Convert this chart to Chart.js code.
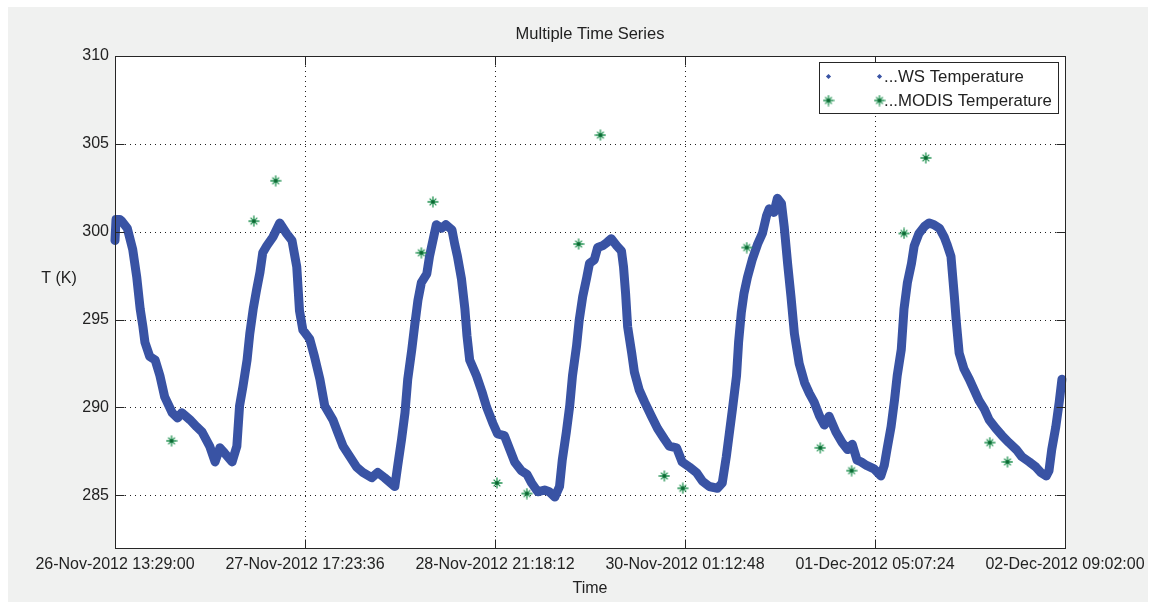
<!DOCTYPE html>
<html>
<head>
<meta charset="utf-8">
<title>Multiple Time Series</title>
<script src="https://cdn.jsdelivr.net/npm/chart.js@4.4.0/dist/chart.umd.min.js"></script>
<style>
  html, body { margin: 0; padding: 0; background: #ffffff; }
  canvas { display: block; }
</style>
</head>
<body>
<canvas id="chart" width="1155" height="602"></canvas>
<script>
// Time axis: hours elapsed since 26-Nov-2012 13:29:00
const xTickLabels = [
  '26-Nov-2012 13:29:00', '27-Nov-2012 17:23:36', '28-Nov-2012 21:18:12',
  '30-Nov-2012 01:12:48', '01-Dec-2012 05:07:24', '02-Dec-2012 09:02:00'
];
const xTickHours = [0, 27.91, 55.82, 83.73, 111.64, 139.55];
const yTicks = [285, 290, 295, 300, 305, 310];

// Weather-station temperature (K)
const wsHours = [
  0, 0.15, 0.7, 1.0, 1.8, 2.6, 3.2, 3.7, 4.1, 4.4,
  5.1, 5.9, 6.6, 7.3, 8.4, 9.2, 9.8, 11.0, 12.0, 12.8,
  13.9, 14.7, 15.4, 16.1, 17.2, 17.9, 18.3, 18.8, 19.4, 19.8,
  20.3, 20.8, 21.3, 21.7, 22.3, 23.2, 24.2, 25.2, 26.0, 26.7,
  27.1, 27.6, 28.6, 29.3, 30.1, 30.8, 32.0, 32.7, 33.5, 34.5,
  35.5, 36.4, 37.7, 38.6, 39.6, 41.1, 41.5, 42.1, 42.6, 43.0,
  43.6, 44.0, 44.5, 45.0, 45.8, 46.2, 46.7, 47.2, 48.0, 48.6,
  49.5, 49.9, 50.3, 50.9, 51.4, 51.7, 52.1, 53.1, 53.9, 54.6,
  55.5, 56.2, 57.2, 58.0, 58.7, 59.7, 60.5, 61.2, 62.1, 63.1,
  63.8, 64.6, 65.3, 65.7, 66.3, 66.8, 67.2, 67.8, 68.2, 68.7,
  69.3, 69.7, 70.4, 70.9, 71.6, 72.3, 72.9, 73.7, 74.4, 74.7,
  75.0, 75.3, 75.9, 76.3, 77.0, 77.8, 78.8, 79.7, 80.7, 81.4,
  82.5, 83.3, 84.4, 85.4, 86.3, 87.3, 88.5, 89.2, 89.8, 90.2,
  90.7, 91.3, 91.6, 92.0, 92.4, 92.9, 93.6, 94.4, 95.1, 95.7,
  96.1, 96.8, 97.3, 97.9, 98.3, 98.8, 99.3, 99.8, 100.5, 101.3,
  102.0, 102.7, 103.5, 104.2, 104.9, 105.9, 106.8, 107.6, 108.3, 109.0,
  109.6, 110.4, 111.5, 112.5, 113.0, 113.4, 114.0, 114.5, 114.9, 115.5,
  115.9, 116.4, 117.0, 117.4, 118.1, 118.9, 119.6, 120.3, 121.1, 121.8,
  122.2, 122.8, 123.3, 123.6, 124.0, 124.7, 125.5, 126.2, 126.9, 127.7,
  128.4, 129.4, 130.3, 131.3, 132.4, 133.2, 134.3, 135.3, 136.0, 136.8,
  137.2, 137.6, 138.2, 138.7, 139.1
];
const wsTemp = [
  299.5, 300.7, 300.7, 300.6, 300.2, 299.0, 297.4, 295.6, 294.6, 293.7,
  292.9, 292.7, 291.8, 290.6, 289.7, 289.4, 289.7, 289.3, 288.9, 288.6,
  287.8, 286.9, 287.7, 287.4, 286.9, 287.8, 290.1, 291.2, 292.7, 294.2,
  295.6, 296.7, 297.7, 298.8, 299.2, 299.7, 300.5, 299.9, 299.5, 298.0,
  295.5, 294.4, 293.9, 292.9, 291.6, 290.1, 289.3, 288.6, 287.8, 287.2,
  286.6, 286.3, 286.0, 286.3, 286.0, 285.5, 286.6, 288.2, 289.7, 291.6,
  293.3, 294.6, 296.1, 297.1, 297.6, 298.6, 299.5, 300.4, 300.2, 300.4,
  300.1, 299.3, 298.6, 297.3, 295.6, 294.1, 292.7, 291.8, 290.9, 290.0,
  289.1, 288.5, 288.4, 287.6, 286.9, 286.4, 286.2, 285.7, 285.2, 285.3,
  285.2, 284.9, 285.5, 287.0, 288.6, 290.1, 291.8, 293.5, 295.0, 296.3,
  297.4, 298.2, 298.4, 299.1, 299.2, 299.4, 299.6, 299.2, 298.9, 298.0,
  296.5, 294.6, 293.1, 292.0, 291.0, 290.3, 289.5, 288.8, 288.2, 287.8,
  287.7, 286.9, 286.6, 286.3, 285.8, 285.5, 285.4, 285.7, 287.2, 288.4,
  289.9, 291.8, 293.7, 295.4, 296.5, 297.4, 298.4, 299.3, 299.9, 300.9,
  301.3, 301.1, 301.9, 301.6, 300.3, 298.2, 296.3, 294.2, 292.5, 291.4,
  290.8, 290.3, 289.5, 289.0, 289.5, 288.6, 288.0, 287.6, 287.9, 287.0,
  286.9, 286.7, 286.5, 286.1, 286.7, 287.6, 288.9, 290.4, 291.8, 293.3,
  295.6, 297.1, 298.2, 299.2, 299.9, 300.3, 300.5, 300.4, 300.2, 299.7,
  299.3, 298.6, 296.3, 294.8, 293.1, 292.2, 291.6, 291.0, 290.4, 289.9,
  289.3, 288.8, 288.4, 288.0, 287.6, 287.2, 286.9, 286.6, 286.3, 286.1,
  286.4, 287.6, 288.9, 290.3, 291.6
];

// MODIS land-surface temperature overpasses (K)
const modisHours = [8.3, 20.4, 23.6, 45.0, 46.7, 56.1, 60.5, 68.1, 71.3, 80.7, 83.4, 92.8, 103.6, 108.2, 115.9, 119.1, 128.5, 131.1];
const modisTemp  = [288.1, 300.6, 302.9, 298.8, 301.7, 285.7, 285.1, 299.3, 305.5, 286.1, 285.4, 299.1, 287.7, 286.4, 299.9, 304.2, 288.0, 286.9];

const seriesNames = ['...WS Temperature', '...MODIS Temperature'];

const BLUE = '#3953a4';
const GREEN = '#1f9150';
const GREEN_DARK = '#0c6531';
const TEXT = '#222222';
const FONT = '"Liberation Sans", Arial, sans-serif';

// asterisk marker used for the MODIS points
function makeStar(size) {
  const c = document.createElement('canvas');
  c.width = c.height = size;
  const g = c.getContext('2d');
  const m = size / 2;
  const d = size * 0.28;
  g.strokeStyle = GREEN;
  g.lineWidth = 1.3;
  g.beginPath();
  g.moveTo(m, 0.5); g.lineTo(m, size - 0.5);
  g.moveTo(0.5, m); g.lineTo(size - 0.5, m);
  g.moveTo(m - d, m - d); g.lineTo(m + d, m + d);
  g.moveTo(m - d, m + d); g.lineTo(m + d, m - d);
  g.stroke();
  g.fillStyle = GREEN_DARK;
  g.beginPath(); g.arc(m, m, 1.8, 0, Math.PI * 2); g.fill();
  return c;
}
const starMarker = makeStar(12);

function drawDiamond(ctx, x, y, r) {
  ctx.beginPath();
  ctx.moveTo(x, y - r); ctx.lineTo(x + r, y); ctx.lineTo(x, y + r); ctx.lineTo(x - r, y);
  ctx.closePath();
  ctx.fill();
}

const figure = {
  id: 'figure',
  beforeDraw(chart) {
    const { ctx, chartArea: a } = chart;
    const xs = chart.scales.x, ys = chart.scales.y;
    ctx.save();
    ctx.fillStyle = '#ffffff';
    ctx.fillRect(0, 0, chart.width, chart.height);
    ctx.fillStyle = '#f0f1f0';
    ctx.fillRect(8, 7, 1140, 595);
    ctx.fillStyle = '#ffffff';
    ctx.fillRect(a.left, a.top, a.right - a.left, a.bottom - a.top);
    // dotted grid
    ctx.strokeStyle = '#202020';
    ctx.lineWidth = 1;
    ctx.setLineDash([1, 4]);
    ctx.beginPath();
    xs.ticks.forEach(t => {
      const px = Math.round(xs.getPixelForValue(t.value)) + 0.5;
      ctx.moveTo(px, a.top); ctx.lineTo(px, a.bottom);
    });
    ys.ticks.forEach(t => {
      const py = Math.round(ys.getPixelForValue(t.value)) + 0.5;
      ctx.moveTo(a.left, py); ctx.lineTo(a.right, py);
    });
    ctx.stroke();
    ctx.restore();
  },
  afterDatasetsDraw(chart) {
    const { ctx, chartArea: a } = chart;
    const xs = chart.scales.x, ys = chart.scales.y;
    const L = Math.round(a.left) + 0.5, R = Math.round(a.right) + 0.5;
    const T = Math.round(a.top) + 0.5, B = Math.round(a.bottom) + 0.5;
    ctx.save();
    ctx.strokeStyle = '#262626';
    ctx.lineWidth = 1;
    ctx.setLineDash([]);
    ctx.strokeRect(L, T, R - L, B - T);
    const tl = 9;
    ctx.beginPath();
    xs.ticks.forEach(t => {
      const px = Math.round(xs.getPixelForValue(t.value)) + 0.5;
      ctx.moveTo(px, B); ctx.lineTo(px, B - tl);
      ctx.moveTo(px, T); ctx.lineTo(px, T + tl);
    });
    ys.ticks.forEach(t => {
      const py = Math.round(ys.getPixelForValue(t.value)) + 0.5;
      ctx.moveTo(L, py); ctx.lineTo(L + tl, py);
      ctx.moveTo(R, py); ctx.lineTo(R - tl, py);
    });
    ctx.stroke();
    ctx.restore();
  },
  afterDraw(chart) {
    const { ctx, chartArea: a } = chart;
    const cx = (a.left + a.right) / 2;
    ctx.save();
    ctx.fillStyle = TEXT;
    ctx.font = '16.5px ' + FONT;
    ctx.textAlign = 'center';
    ctx.textBaseline = 'middle';
    ctx.fillText('Multiple Time Series', cx, 34);
    ctx.font = '16px ' + FONT;
    ctx.fillText('Time', cx, 589);
    ctx.fillText('T (K)', 59, 279);

    // legend box
    const bx = 819.5, by = 62.5, bw = 239, bh = 51;
    ctx.fillStyle = '#ffffff';
    ctx.fillRect(bx, by, bw, bh);
    ctx.strokeStyle = '#262626';
    ctx.lineWidth = 1;
    ctx.strokeRect(bx, by, bw, bh);
    const rows = [76.5, 100.5];
    ctx.fillStyle = BLUE;
    drawDiamond(ctx, 828.5, rows[0], 2.6);
    drawDiamond(ctx, 879.5, rows[0], 2.6);
    ctx.drawImage(starMarker, 828.5 - 6, rows[1] - 6);
    ctx.drawImage(starMarker, 879.5 - 6, rows[1] - 6);
    ctx.fillStyle = TEXT;
    ctx.textAlign = 'left';
    ctx.font = '16.8px ' + FONT;
    ctx.fillText(seriesNames[0], 884, rows[0] + 1);
    ctx.fillText(seriesNames[1], 884, rows[1] + 1);
    ctx.restore();
  }
};

new Chart(document.getElementById('chart'), {
  type: 'scatter',
  data: {
    datasets: [
      {
        label: seriesNames[0],
        data: wsHours.map((h, i) => ({ x: h, y: wsTemp[i] })),
        showLine: true,
        borderColor: BLUE,
        backgroundColor: BLUE,
        borderWidth: 9,
        borderCapStyle: 'round',
        borderJoinStyle: 'round',
        pointRadius: 0,
        tension: 0,
        clip: false,
        order: 1
      },
      {
        label: seriesNames[1],
        data: modisHours.map((h, i) => ({ x: h, y: modisTemp[i] })),
        showLine: false,
        pointStyle: starMarker,
        pointRadius: 6,
        order: 0
      }
    ]
  },
  options: {
    responsive: false,
    animation: false,
    events: [],
    layout: { padding: { left: 0, top: 56, right: 90, bottom: 0 } },
    plugins: {
      legend: { display: false },
      title: { display: false },
      tooltip: { enabled: false }
    },
    scales: {
      x: {
        type: 'linear',
        min: xTickHours[0],
        max: xTickHours[xTickHours.length - 1],
        afterBuildTicks: s => { s.ticks = xTickHours.map(v => ({ value: v })); },
        afterFit: s => { s.height = 54; },
        grid: { display: false, drawTicks: false },
        border: { display: false },
        ticks: {
          autoSkip: false,
          maxRotation: 0,
          minRotation: 0,
          padding: 7,
          color: TEXT,
          font: { family: FONT, size: 16 },
          callback: (v, i) => xTickLabels[i]
        }
      },
      y: {
        type: 'linear',
        min: 282,
        max: 310,
        afterBuildTicks: s => { s.ticks = yTicks.map(v => ({ value: v })); },
        afterFit: s => { s.width = 115; },
        grid: { display: false, drawTicks: false },
        border: { display: false },
        ticks: {
          padding: 6,
          color: TEXT,
          font: { family: FONT, size: 16 },
          callback: v => String(v)
        }
      }
    }
  },
  plugins: [figure]
});
</script>
</body>
</html>
